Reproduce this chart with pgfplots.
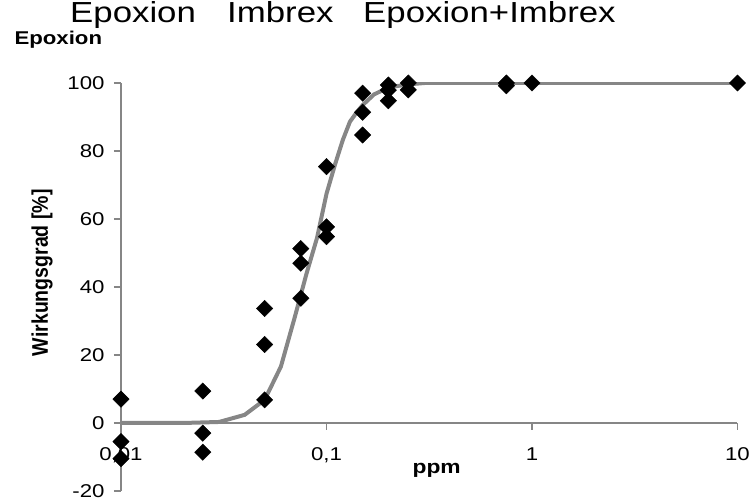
\documentclass[border=0pt]{standalone}
\usepackage{fontspec}
\setmainfont{Liberation Sans}[FakeStretch=1.2]
\newfontfamily\plainfont{Liberation Sans}
\usepackage{pgfplots}
\pgfplotsset{compat=1.18}
\definecolor{axgray}{RGB}{134,134,134}

\begin{document}
\begin{tikzpicture}
\begin{axis}[
  at={(0,0)}, anchor=south west,
  scale only axis, width=616.5pt, height=408pt,
  xmode=log, xmin=0.01, xmax=10, ymin=-20, ymax=100,
  axis x line=middle, axis y line=left,
  axis line style={-, draw=axgray, line width=1.3pt},
  xtick={0.01,0.1,1,10}, xticklabels={{0,01},{0,1},1,10},
  ytick={-20,0,20,40,60,80,100}, yticklabels={-20,0,20,40,60,80,100},
  xminorticks=false, hide obscured x ticks=false,
  tick align=outside, major tick length=7pt,
  tick style={draw=axgray, line width=1.3pt},
  ticklabel style={font=\fontsize{18.5}{20}\selectfont},
  xticklabel style={yshift=-14pt},
  yticklabel style={xshift=-6pt},
  ylabel={\scalebox{1}[1.16]{\plainfont\bfseries\fontsize{19.5}{21}\selectfont Wirkungsgrad [\%]}},
  ylabel style={at={(axis description cs:-0.128,0.535)}, anchor=center},
  xlabel={ppm},
  xlabel style={at={(axis description cs:0.512,0.05)}, anchor=center, font=\bfseries\fontsize{19}{20}\selectfont},
]
% fitted curve
\addplot[axgray, line width=4pt, no marks] coordinates {
(0.01,0) (0.02,0) (0.03,0.3) (0.04,2.4) (0.05,6.8) (0.06,16.6) (0.07,31)
(0.08,44) (0.09,54.5) (0.1,67.4) (0.11,76) (0.12,83.2) (0.13,88.6) (0.14,91.3)
(0.15,93.5) (0.17,96.6) (0.2,98.7) (0.25,99.6) (0.3,100) (0.5,100) (1,100) (10,100)
};
% measurements
\addplot[only marks, mark=square*, mark size=5.8pt, mark options={rotate=45, fill=black, draw=black}] coordinates {
(0.01,7.0) (0.01,-5.5) (0.01,-10.5)
(0.025,9.4) (0.025,-3.0) (0.025,-8.6)
(0.05,6.8) (0.05,23.1) (0.05,33.7)
(0.075,36.7) (0.075,47.0) (0.075,51.3)
(0.1,54.8) (0.1,57.7) (0.1,75.4)
(0.15,84.7) (0.15,91.4) (0.15,97.0)
(0.2,94.8) (0.2,97.9) (0.2,99.4)
(0.25,98.0) (0.25,100)
(0.75,99.2) (0.75,100)
(1,100) (10,100)
};
\end{axis}
\node[anchor=west, font=\bfseries\fontsize{18.5}{20}\selectfont] at (-110pt,451pt) {Epoxion};
\node[anchor=base west, inner sep=0pt, font=\fontsize{29}{30}\selectfont] at (-51pt,468pt) {Epoxion};
\node[anchor=base west, inner sep=0pt, font=\fontsize{29}{30}\selectfont] at (106pt,468pt) {Imbrex};
\node[anchor=base west, inner sep=0pt, font=\fontsize{29}{30}\selectfont] at (242pt,468pt) {Epoxion+Imbrex};
\pgfresetboundingbox
\useasboundingbox (-121pt,-11pt) rectangle (631pt,491pt);
\end{tikzpicture}
\end{document}
